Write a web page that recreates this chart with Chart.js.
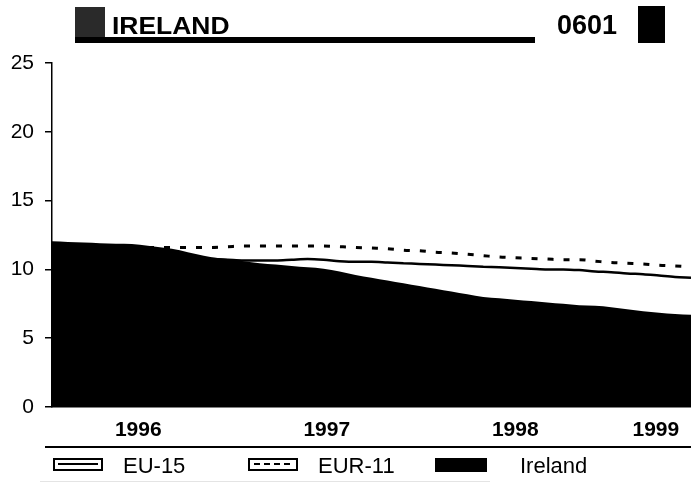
<!DOCTYPE html>
<html>
<head>
<meta charset="utf-8">
<script src="https://cdn.jsdelivr.net/npm/chart.js@4.4.1/dist/chart.umd.min.js"></script>
<style>
  html, body { margin: 0; padding: 0; background: #fff; }
  #wrap { position: relative; width: 691px; height: 484px; overflow: hidden; font-family: "Liberation Sans", Arial, sans-serif; color: #000; }
  #wrap canvas { position: absolute; left: 0; top: 0; }
  .abs { position: absolute; }
  .txt { position: absolute; white-space: nowrap; line-height: 1; }
</style>
</head>
<body>
<div id="wrap">
  <canvas id="c" width="691" height="484"></canvas>
  <!-- title block -->
  <div class="abs" style="left:75px;top:7px;width:30px;height:35px;background:#2a2a2a;"></div>
  <div class="abs" style="left:75px;top:37px;width:460px;height:6px;background:#000;"></div>
  <div class="txt" style="left:112px;top:15px;font-size:23px;font-weight:bold;transform:scaleX(1.15);transform-origin:left top;">IRELAND</div>
  <div class="txt" style="left:557px;top:12px;font-size:27px;font-weight:bold;">0601</div>
  <div class="abs" style="left:638px;top:6px;width:27px;height:37px;background:#000;"></div>
  <!-- separator lines -->
  <div class="abs" style="left:45px;top:446px;width:646px;height:2px;background:#000;"></div>
  <div class="abs" style="left:40px;top:481px;width:450px;height:1px;background:#e4e4e4;"></div>
  <!-- legend -->
  <div class="abs" style="left:53px;top:458px;width:46px;height:9px;border:2px solid #000;"></div>
  <div class="abs" style="left:58px;top:463px;width:40px;height:2px;background:#000;"></div>
  <div class="txt" style="left:123px;top:455px;font-size:22px;" id="lg1"></div>
  <div class="abs" style="left:248px;top:458px;width:46px;height:9px;border:2px solid #000;"></div>
  <div class="abs" style="left:254px;top:463px;width:38px;height:2px;background:repeating-linear-gradient(90deg,#000 0 6px,transparent 6px 10px);"></div>
  <div class="txt" style="left:318px;top:455px;font-size:22px;" id="lg2"></div>
  <div class="abs" style="left:435px;top:458px;width:52px;height:14px;background:#000;"></div>
  <div class="txt" style="left:520px;top:455px;font-size:22px;" id="lg3"></div>
</div>
<script>
// ---- data (monthly) ----
const seriesNames = ["EU-15", "EUR-11", "Ireland"];
const ireland = [12.05,12.0,11.95,11.9,11.87,11.85,11.72,11.58,11.4,11.12,10.88,10.75,10.6,10.45,10.35,10.25,10.15,10.05,9.85,9.6,9.4,9.2,9.0,8.8,8.6,8.4,8.2,8.0,7.9,7.8,7.7,7.6,7.5,7.4,7.35,7.25,7.1,6.95,6.85,6.75,6.7];
const eu15 = [10.9,10.9,10.9,10.85,10.85,10.85,10.8,10.8,10.8,10.8,10.75,10.7,10.65,10.65,10.65,10.7,10.75,10.7,10.6,10.55,10.55,10.5,10.45,10.4,10.35,10.3,10.25,10.2,10.15,10.1,10.05,10.0,10.0,9.95,9.85,9.8,9.7,9.65,9.55,9.45,9.4];
const eur11 = [11.6,11.6,11.6,11.6,11.6,11.6,11.6,11.6,11.6,11.6,11.6,11.65,11.7,11.7,11.7,11.7,11.7,11.7,11.65,11.6,11.55,11.5,11.4,11.35,11.25,11.2,11.1,11.0,10.9,10.85,10.8,10.75,10.7,10.7,10.6,10.5,10.45,10.4,10.3,10.25,10.2];
const yearLabels = ["1996", "1997", "1998", "1999"];
const yearTickPos = [5.4, 17.2, 29.0, 37.8];
const yTicks = [0, 5, 10, 15, 20, 25];

document.getElementById("lg1").textContent = seriesNames[0];
document.getElementById("lg2").textContent = seriesNames[1];
document.getElementById("lg3").textContent = seriesNames[2];

const toXY = arr => arr.map((v, i) => ({ x: i, y: v }));

new Chart(document.getElementById("c"), {
  type: "line",
  data: {
    datasets: [
      { label: seriesNames[2], data: toXY(ireland), order: 0, borderWidth: 0, borderColor: "#000",
        backgroundColor: "#000", fill: "origin", pointRadius: 0, cubicInterpolationMode: "monotone" },
      { label: seriesNames[0], data: toXY(eu15), order: 1, borderWidth: 2.5, borderColor: "#000",
        fill: false, pointRadius: 0, cubicInterpolationMode: "monotone" },
      { label: seriesNames[1], data: toXY(eur11), order: 2, borderWidth: 3, borderColor: "#000",
        borderDash: [6, 10], fill: false, pointRadius: 0, cubicInterpolationMode: "monotone" }
    ]
  },
  options: {
    responsive: false,
    animation: false,
    events: [],
    layout: { padding: { top: 63, right: 0, bottom: 37, left: 0 } },
    plugins: { legend: { display: false }, tooltip: { enabled: false } },
    scales: {
      x: {
        type: "linear", min: 0, max: ireland.length - 1,
        afterBuildTicks: s => { s.ticks = yearTickPos.map(v => ({ value: v })); },
        afterFit: s => { s.height = 40; },
        grid: { display: false },
        border: { display: true, color: "#000", width: 1.5 },
        ticks: {
          autoSkip: false, maxRotation: 0, padding: 3, color: "#000",
          font: { family: "Liberation Sans", size: 21, weight: "bold" },
          callback: (v, i) => yearLabels[i]
        }
      },
      y: {
        min: 0, max: 25,
        afterBuildTicks: s => { s.ticks = yTicks.map(v => ({ value: v })); },
        afterFit: s => { s.width = 52; },
        grid: { drawOnChartArea: false, tickLength: 7, color: "#000", lineWidth: 1.5 },
        border: { display: true, color: "#000", width: 1.5 },
        ticks: { padding: 11, color: "#000", font: { family: "Liberation Sans", size: 21 } }
      }
    }
  }
});
</script>
</body>
</html>
